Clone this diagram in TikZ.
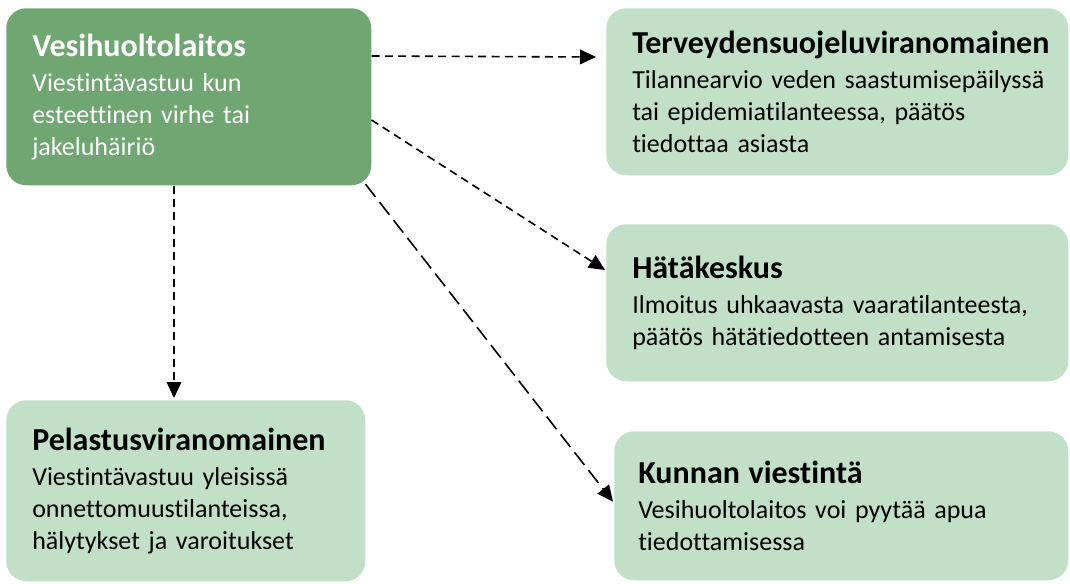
\documentclass[tikz,border=0pt]{standalone}
\usepackage{fontspec}
\setmainfont{Carlito}[Ligatures=NoCommon]
\usetikzlibrary{positioning,arrows.meta}
\definecolor{darkleaf}{RGB}{112,166,114}
\definecolor{lightleaf}{RGB}{194,224,199}
\newcommand{\titlefont}{\fontsize{24pt}{28pt}\selectfont\bfseries}
\newcommand{\bodyfont}{\fontsize{19.5pt}{24pt}\selectfont}
\newcommand{\boxtext}[2]{{\titlefont #1}\\[2pt]#2}
\tikzstyle{actor} = [rectangle, rounded corners=15pt, anchor=north west, align=left, inner xsep=19.5pt, inner ysep=0pt, font=\bodyfont, fill=lightleaf, text=black]
\tikzstyle{source} = [actor, fill=darkleaf, text=white]
\tikzstyle{line} = [draw, line width=1.2pt, dash pattern=on 6pt off 4pt, -{Triangle[length=12pt,width=11pt]}]
\tikzstyle{longline} = [line, dash pattern=on 12pt off 5pt]

\begin{document}
\begin{tikzpicture}[x=0.75pt, y=-0.75pt]
    \useasboundingbox (0,0) rectangle (1070,583);
    % Place nodes
    \node [source, text width=234.75pt, minimum height=132.75pt] (utility) at (6,8)
        {\boxtext{Vesihuoltolaitos}{Viestintävastuu kun\\esteettinen virhe tai\\jakeluhäiriö}};
    \node [actor, text width=307.5pt, minimum height=125.25pt] (health) at (606,8)
        {\boxtext{Terveydensuojeluviranomainen}{\mbox{Tilannearvio veden saastumisepäilyssä}\\tai epidemiatilanteessa, päätös\\tiedottaa asiasta}};
    \node [actor, text width=307.5pt, minimum height=117.75pt] (emergency) at (606,224)
        {\boxtext{Hätäkeskus}{\mbox{Ilmoitus uhkaavasta vaaratilanteesta,}\\päätös hätätiedotteen antamisesta}};
    \node [actor, text width=230.25pt, minimum height=135.75pt] (rescue) at (6,400)
        {\boxtext{Pelastusviranomainen}{Viestintävastuu yleisissä\\onnettomuustilanteissa,\\hälytykset ja varoitukset}};
    \node [actor, inner xsep=18pt, text width=304.5pt, minimum height=111.75pt] (municipal) at (614,431)
        {\boxtext{Kunnan viestintä}{Vesihuoltolaitos voi pyytää apua\\tiedottamisessa}};
    % Draw edges
    \path [line] ([yshift=-36pt]utility.north east) -- ([xshift=-7.5pt,yshift=-36.75pt]health.north west);
    \path [line] ([yshift=-84pt]utility.north east) -- ([xshift=-0.75pt,yshift=-34.5pt]emergency.north west);
    \path [longline] ([xshift=-4.5pt,yshift=1pt]utility.south east) -- ([xshift=-0.75pt,yshift=-53pt]municipal.north west);
    \path [line] ([xshift=126pt]utility.south west) -- ([xshift=126pt,yshift=1.5pt]rescue.north west |- rescue.north);
\end{tikzpicture}
\end{document}
